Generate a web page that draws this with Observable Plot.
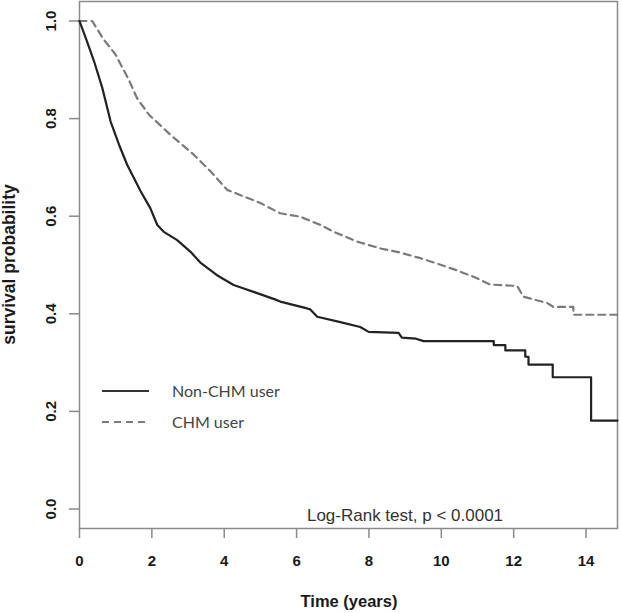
<!DOCTYPE html>
<html>
<head>
<meta charset="utf-8">
<script src="https://cdn.jsdelivr.net/npm/d3@7"></script>
<script src="https://cdn.jsdelivr.net/npm/@observablehq/plot@0.6"></script>
<style>
  html, body { margin: 0; padding: 0; background: #fff; }
  #chart svg { display: block; }
</style>
</head>
<body>
<div id="chart"></div>
<script>
// Non-CHM user (solid) Kaplan–Meier estimates: time (years), survival
const nonChmTime = [0, 0.17, 0.40, 0.63, 0.86, 1.09, 1.32, 1.69, 1.96, 2.15, 2.33, 2.70, 3.07, 3.34, 3.80, 4.26, 4.54, 5.46, 5.55, 6.29, 6.38, 6.57, 7.21, 7.76, 7.99, 8.82, 8.91, 9.30, 9.51, 11.45, 11.45, 11.77, 11.77, 12.32, 12.32, 12.41, 12.41, 13.08, 13.08, 14.14, 14.14, 14.87];
const nonChmSurv = [1.0, 0.966, 0.918, 0.863, 0.794, 0.747, 0.705, 0.651, 0.616, 0.582, 0.568, 0.551, 0.527, 0.505, 0.479, 0.459, 0.452, 0.428, 0.425, 0.411, 0.409, 0.394, 0.383, 0.373, 0.363, 0.361, 0.351, 0.349, 0.344, 0.344, 0.336, 0.336, 0.325, 0.325, 0.312, 0.312, 0.296, 0.296, 0.270, 0.270, 0.181, 0.181];

// CHM user (dashed)
const chmTime = [0, 0.35, 0.67, 0.99, 1.36, 1.59, 1.92, 2.51, 3.16, 3.62, 4.08, 5.00, 5.55, 6.10, 6.66, 7.03, 7.67, 8.31, 8.78, 9.42, 9.88, 10.43, 10.89, 11.35, 12.10, 12.27, 12.93, 13.10, 13.65, 13.65, 14.87];
const chmSurv = [1.0, 1.0, 0.962, 0.932, 0.880, 0.842, 0.808, 0.767, 0.726, 0.692, 0.654, 0.627, 0.606, 0.599, 0.582, 0.568, 0.548, 0.534, 0.527, 0.514, 0.503, 0.489, 0.476, 0.460, 0.457, 0.435, 0.422, 0.414, 0.414, 0.398, 0.398];

const xTicks = [0, 2, 4, 6, 8, 10, 12, 14];
const yTicks = [0.0, 0.2, 0.4, 0.6, 0.8, 1.0];
const seriesNames = ["Non-CHM user", "CHM user"];
const annotation = "Log-Rank test, p < 0.0001";

const nonChm = nonChmTime.map((t, i) => ({t, s: nonChmSurv[i]}));
const chm = chmTime.map((t, i) => ({t, s: chmSurv[i]}));

const W = 622, H = 613;
const mL = 79, mR = 5, mT = 1, mB = 85;

const plot = Plot.plot({
  width: W,
  height: H,
  marginLeft: mL,
  marginRight: mR,
  marginTop: mT,
  marginBottom: mB,
  style: {fontFamily: "'Liberation Sans', Arial, sans-serif", background: "#fff", fontSize: "15px"},
  x: {domain: [0, 14.87]},
  y: {domain: [-0.04, 1.04]},
  marks: [
    Plot.frame({stroke: "#8a8a8a", strokeWidth: 1.5}),
    Plot.axisX({ticks: xTicks, tickSize: 10, tickPadding: 17, tickFormat: d => String(d), stroke: "#8a8a8a", strokeWidth: 1.5, fill: "#1a1a1a", fontSize: 15, fontWeight: "bold", label: null}),
    Plot.axisY({ticks: yTicks, tickSize: 10, tickPadding: 14, tickRotate: -90, tickFormat: d => d.toFixed(1), stroke: "#8a8a8a", strokeWidth: 1.5, fill: "#1a1a1a", fontSize: 15, fontWeight: "bold", label: null}),
    Plot.line(chm, {x: "t", y: "s", stroke: "#7a7a7a", strokeWidth: 2.2, strokeDasharray: "7,5"}),
    Plot.line(nonChm, {x: "t", y: "s", stroke: "#222", strokeWidth: 2.2})
  ]
});

document.getElementById("chart").appendChild(plot);

const svg = d3.select(plot);
const sy = plot.scale("y");

// x-axis title
svg.append("text")
  .attr("x", 349).attr("y", 607)
  .attr("text-anchor", "middle")
  .attr("font-family", "'Liberation Sans', Arial, sans-serif")
  .attr("font-size", 16.5).attr("font-weight", "bold").attr("fill", "#1a1a1a")
  .text("Time (years)");

// y-axis title
svg.append("text")
  .attr("transform", `translate(15, ${(sy.apply(1.04) + sy.apply(-0.04)) / 2}) rotate(-90)`)
  .attr("text-anchor", "middle")
  .attr("font-family", "'Liberation Sans', Arial, sans-serif")
  .attr("font-size", 17.5).attr("font-weight", "bold").attr("fill", "#1a1a1a")
  .text("survival probability");

// annotation
svg.append("text")
  .attr("x", 405).attr("y", 521)
  .attr("text-anchor", "middle")
  .attr("font-family", "'Liberation Sans', Arial, sans-serif")
  .attr("font-size", 17).attr("fill", "#333")
  .text(annotation);

// legend
const leg = svg.append("g");
const legendRows = [
  {name: seriesNames[0], y: 391, stroke: "#333", dash: null},
  {name: seriesNames[1], y: 422, stroke: "#7a7a7a", dash: "7,5"}
];
legendRows.forEach(r => {
  leg.append("line")
    .attr("x1", 102).attr("x2", 149).attr("y1", r.y).attr("y2", r.y)
    .attr("stroke", r.stroke).attr("stroke-width", 2)
    .attr("stroke-dasharray", r.dash);
  leg.append("text")
    .attr("x", 172).attr("y", r.y + 5.5)
    .attr("text-anchor", "start")
    .attr("font-family", "Lato, 'Open Sans', sans-serif")
    .attr("font-size", 16).attr("fill", "#444")
    .text(r.name);
});
</script>
</body>
</html>
